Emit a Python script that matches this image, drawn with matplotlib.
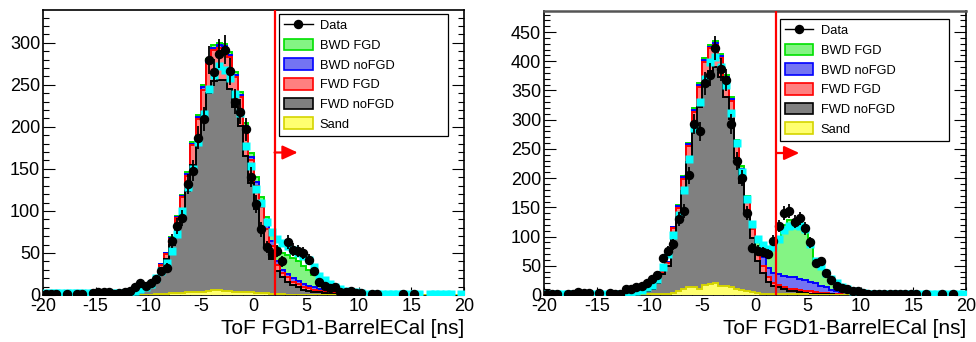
import numpy as np
import matplotlib
matplotlib.use("Agg")
import matplotlib.pyplot as plt
from matplotlib.patches import Patch
from matplotlib.lines import Line2D
from matplotlib.ticker import MultipleLocator

plt.rcParams['font.family'] = ['Liberation Sans', 'DejaVu Sans']
plt.rcParams['axes.unicode_minus'] = False

nan = np.nan

# 80 bins of 0.5 ns between -20 and 20
bin_edges = np.linspace(-20, 20, 81)
centers = 0.5 * (bin_edges[:-1] + bin_edges[1:])

# ---------------- left panel ----------------
L_data = [
    1, 1, 1, 0, 1, 0, 1, 1, 0, 2,
    3, 3, 3, 1, 2, 3, 5, 9, 14, 11,
    14, 19, 28, 32, 64, 82, 92, 132, 148, 187,
    209, 279, 265, 287, 292, 266, 230, 218, 197, 140,
    108, 78, 57, 49, 52, 40, 63, 54, 52, 50,
    42, 28, 15, 11, 8, 9, 4, 4, 5, 2,
    2, 0, 1, 1, 0, 0, 0, 0, 1, 0,
    1, 0, 0, 0, 0, 0, 0, 0, 0, 0]
L_cyan = [
    2, 2, 2, 2, 2, 2, 2, 2, 2, 2,
    2, 2, 2, 2, 2, 2, 3, 5, 7, 10,
    13, 20, 28, 38, 52, 73, 100, 128, 150, 182,
    215, 245, 262, 272, 268, 258, 239, 216, 177, 154,
    126, 110, 87, 75, 67, 62, 58, 54, 50, 46,
    42, 33, 23, 18, 13, 10, 7, 5, 4, 3,
    2, 1, 1, 1, 1, 1, 1, 1, 1, 1,
    1, 1, nan, 1, 1, 1, 1, 1, nan, 1]
L_sand = [0] * 20 + [
    0, 1, 1, 1, 2, 2, 2, 3, 3, 4,
    4, 5, 6, 6, 5, 5, 4, 3, 3, 3,
    2, 2, 2, 1, 1, 1, 0, 0, 0, 0] + [0] * 30
L_fwd_nofgd = [0] * 10 + [
    0, 0, 0, 0, 0, 0, 0, 2, 5, 8,
    13, 19, 31, 42, 57, 78, 100, 121, 152, 180,
    210, 235, 248, 250, 251, 240, 220, 198, 162, 130,
    100, 78, 56, 42, 28, 21, 16, 12, 9, 6,
    5, 4, 3, 2, 1, 1, 1, 0, 0, 0] + [0] * 20
L_fwd_fgd = [0] * 10 + [
    0, 0, 0, 0, 0, 0, 0, 0, 1, 1,
    2, 3, 4, 6, 8, 12, 14, 18, 23, 25,
    30, 35, 37, 38, 37, 38, 35, 34, 33, 28,
    28, 25, 20, 15, 7, 4, 5, 4, 4, 4,
    3, 2, 2, 1, 1, 1, 0, 0, 0, 0] + [0] * 20
L_bwd_nofgd = [0] * 20 + [
    0, 0, 1, 1, 1, 1, 2, 2, 2, 3,
    3, 3, 3, 3, 3, 3, 3, 3, 3, 3,
    4, 4, 5, 6, 4, 4, 4, 4, 4, 3,
    3, 3, 2, 2, 1, 1, 1, 1, 0, 0] + [0] * 20
L_bwd_fgd = [0] * 20 + [
    0, 0, 0, 0, 1, 1, 1, 2, 2, 2,
    3, 3, 3, 3, 3, 3, 3, 4, 4, 5,
    6, 8, 10, 13, 17, 20, 22, 24, 23, 22,
    19, 15, 12, 9, 7, 4, 3, 2, 2, 1] + [0] * 20

# ---------------- right panel ----------------
R_data = [
    1, 1, 1, 0, 1, 1, 5, 3, 3, 0,
    3, 0, 3, 2, 1, 10, 10, 13, 15, 20,
    27, 35, 63, 75, 87, 130, 143, 205, 293, 280,
    362, 377, 422, 386, 368, 293, 229, 200, 140, 80,
    76, 74, 71, 93, 118, 140, 144, 125, 131, 114,
    90, 54, 58, 37, 26, 15, 12, 10, 6, 7,
    3, 2, 1, 1, 1, 1, 1, 1, 1, 1,
    1, 0, 1, 0, 0, 1, 0, 1, 0, 0]
R_cyan = [
    2, 2, 2, 2, 2, 2, 2, 2, 2, 2,
    2, 2, 2, 2, 2, 3, 4, 6, 9, 13,
    17, 27, 48, 70, 103, 137, 180, 232, 285, 331,
    370, 398, 408, 390, 360, 312, 260, 211, 164, 121,
    95, 85, 78, 82, 95, 112, 118, 120, 118, 113,
    88, 58, 50, 37, 27, 20, 14, 11, 7, 5,
    3, 2, 2, 1, 1, 1, 1, 1, 1, 1,
    1, 1, 1, 1, 1, 1, 1, 1, 1, 1]
R_sand = [0] * 10 + [
    0, 0, 0, 0, 0, 0, 0, 1, 1, 1,
    1, 1, 1, 2, 3, 6, 10, 13, 13, 11,
    17, 18, 21, 15, 15, 14, 10, 9, 7, 5,
    3, 2, 1, 1, 1, 1, 1, 1, 1, 1] + [0] * 30
R_fwd_nofgd = [0] * 10 + [
    0, 0, 0, 0, 0, 0, 0, 1, 4, 6,
    10, 19, 35, 48, 100, 128, 168, 215, 270, 310,
    345, 365, 370, 358, 323, 288, 224, 182, 137, 93,
    55, 36, 22, 15, 12, 9, 6, 5, 4, 2,
    2, 2, 1, 1, 1, 0, 0, 0, 0, 0] + [0] * 20
R_fwd_fgd = [0] * 10 + [
    0, 0, 0, 0, 0, 0, 0, 0, 0, 1,
    1, 2, 3, 5, 11, 15, 21, 27, 31, 35,
    37, 39, 37, 33, 32, 30, 25, 22, 18, 15,
    13, 12, 8, 5, 4, 4, 4, 4, 4, 4,
    4, 3, 2, 2, 1, 1, 1, 0, 0, 0] + [0] * 20
R_bwd_nofgd = [0] * 20 + [
    0, 0, 1, 1, 2, 3, 3, 3, 3, 3,
    3, 3, 3, 3, 3, 3, 3, 3, 4, 5,
    10, 15, 16, 16, 19, 19, 20, 20, 19, 19,
    17, 15, 12, 10, 7, 5, 3, 2, 1, 1] + [0] * 20
R_bwd_fgd = [0] * 20 + [
    0, 0, 0, 1, 1, 2, 2, 2, 3, 3,
    3, 3, 3, 3, 3, 3, 3, 4, 4, 4,
    14, 20, 33, 48, 64, 87, 97, 98, 95, 85,
    68, 40, 34, 24, 19, 14, 10, 8, 6, 4,
    3, 2, 1, 1, 0, 0, 0, 0, 0, 0] + [0] * 10

cut_value = 2.0
labels = ["Data", "BWD FGD", "BWD noFGD", "FWD FGD", "FWD noFGD", "Sand"]

# stack order bottom -> top: sand, fwd noFGD, fwd FGD, bwd noFGD, bwd FGD
fill_colors = ['#ffff70', '#808080', '#ff8080', '#7474f2', '#84f484']
edge_colors = ['#d4d400', '#000000', '#ff0000', '#0000ff', '#00e000']


def draw_panel(ax, data, cyan, layers, ymax, legend_box):
    cum = np.cumsum(np.array(layers, dtype=float), axis=0)
    z = 2
    for i in reversed(range(len(layers))):
        ax.stairs(cum[i], bin_edges, fill=True, facecolor=fill_colors[i],
                  edgecolor='none', zorder=z)
        ax.stairs(cum[i], bin_edges, color=edge_colors[i], lw=1.4, zorder=z + 0.5)
        z += 1

    ax.plot(centers, cyan, 's', color='#00ffff', ms=5.8, mec='none', zorder=10)

    d = np.array(data, dtype=float)
    m = d > 0
    ax.errorbar(centers[m], d[m], yerr=np.sqrt(d[m]), fmt='o', color='black',
                ms=5.8, elinewidth=1.3, capsize=0, zorder=11)

    ax.axvline(cut_value, color='red', lw=1.6, zorder=12)
    ax.annotate('', xy=(cut_value + 2.2, 0.5), xytext=(cut_value, 0.5),
                xycoords=('data', 'axes fraction'),
                arrowprops=dict(arrowstyle='-|>,head_length=0.65,head_width=0.3',
                                mutation_scale=14, color='red', lw=1.6,
                                shrinkA=0, shrinkB=0),
                zorder=12)

    ax.set_xlim(-20, 20)
    ax.set_ylim(0, ymax)
    ax.xaxis.set_major_locator(MultipleLocator(5))
    ax.xaxis.set_minor_locator(MultipleLocator(1))
    ax.yaxis.set_major_locator(MultipleLocator(50))
    ax.yaxis.set_minor_locator(MultipleLocator(10))
    ax.tick_params(which='both', direction='in', right=True, top=False,
                   labelsize=13, width=0.8)
    ax.tick_params(axis='y', which='major', length=8.5, pad=2)
    ax.tick_params(axis='y', which='minor', length=4.3)
    ax.tick_params(axis='x', which='major', length=6, pad=2)
    ax.tick_params(axis='x', which='minor', length=3)
    for s in ax.spines.values():
        s.set_linewidth(1.2)
    ax.set_xlabel('ToF FGD1-BarrelECal [ns]', fontsize=15, loc='right', labelpad=3)

    handles = [Line2D([], [], color='black', marker='o', ms=5.8, lw=1)]
    for i in [4, 3, 2, 1, 0]:
        handles.append(Patch(facecolor=fill_colors[i], edgecolor=edge_colors[i], lw=1.2))
    leg = ax.legend(handles, labels, loc='upper left', bbox_to_anchor=legend_box,
                    mode='expand', frameon=True, fancybox=False, edgecolor='black',
                    framealpha=1, fontsize=9.3, handlelength=2.2, handleheight=1.0,
                    handletextpad=0.55, labelspacing=0.5, borderpad=0.4,
                    borderaxespad=0)
    leg.get_frame().set_linewidth(0.9)
    leg.set_zorder(20)


fig = plt.figure(figsize=(9.76, 3.42), dpi=100)
ax1 = fig.add_axes([0.04406, 0.13743, 0.43135, 0.83333])
ax2 = fig.add_axes([0.55738, 0.13743, 0.43238, 0.83041])

draw_panel(ax1, L_data, L_cyan,
           [L_sand, L_fwd_nofgd, L_fwd_fgd, L_bwd_nofgd, L_bwd_fgd],
           339, (0.5606, 0.572, 0.4014, 0.414))
draw_panel(ax2, R_data, R_cyan,
           [R_sand, R_fwd_nofgd, R_fwd_fgd, R_bwd_nofgd, R_bwd_fgd],
           486, (0.559, 0.570, 0.401, 0.402))
ax2.spines['top'].set_color('#555555')
ax2.spines['top'].set_linewidth(1.8)

fig.savefig('out.png', dpi=100)
